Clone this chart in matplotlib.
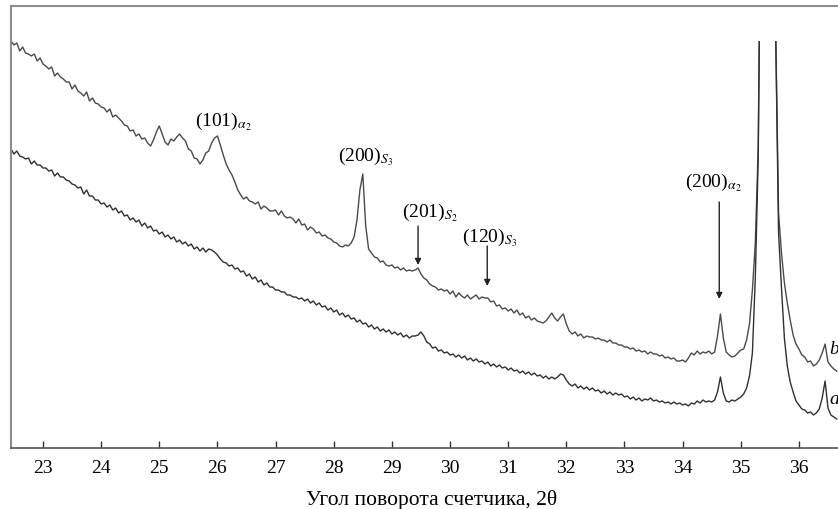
import numpy as np
import matplotlib
matplotlib.use('Agg')
import matplotlib.pyplot as plt
from matplotlib.transforms import Bbox, TransformedBbox

plt.rcParams['font.family'] = ['Liberation Serif', 'DejaVu Serif']
plt.rcParams['mathtext.fontset'] = 'stix'

# scan grid, step 0.05 deg
two_theta = np.linspace(22.45, 36.65, 285)

# curve b (upper)
intens_b = [
    407, 403, 405, 397, 401, 395, 394, 392, 394, 387,
    390, 384, 382, 379, 381, 372, 375, 371, 369, 366,
    366, 359, 363, 357, 355, 352, 356, 347, 350, 345,
    344, 341, 340, 336, 339, 331, 333, 330, 327, 323,
    322, 317, 318, 312, 314, 309, 310, 305, 302, 308,
    316, 322, 314, 306, 303, 309, 307, 311, 314, 310,
    307, 299, 297, 290, 289, 284, 288, 295, 297, 305,
    310, 312, 303, 293, 284, 278, 273, 266, 258, 253,
    249, 251, 247, 246, 244, 246, 239, 242, 240, 237,
    237, 238, 233, 237, 232, 230, 231, 229, 225, 229,
    223, 224, 218, 221, 219, 215, 216, 212, 213, 210,
    209, 206, 205, 202, 201, 203, 202, 205, 211, 228,
    258, 274, 222, 199, 195, 191, 190, 186, 187, 183,
    182, 183, 180, 181, 178, 180, 177, 178, 177, 178,
    180, 174, 170, 168, 164, 162, 161, 158, 159, 157,
    158, 154, 157, 151, 155, 152, 150, 153, 149, 151,
    153, 149, 151, 150, 150, 146, 147, 142, 143, 139,
    140, 137, 139, 135, 138, 133, 135, 130, 132, 128,
    130, 127, 126, 125, 127, 131, 135, 130, 127, 131,
    134, 124, 117, 114, 116, 112, 114, 110, 112, 111,
    111, 109, 110, 108, 108, 106, 108, 105, 105, 103,
    103, 101, 101, 99, 100, 97, 98, 96, 97, 94,
    96, 94, 94, 92, 93, 90, 91, 89, 90, 87,
    87, 88, 86, 90, 95, 93, 97, 94, 96, 95,
    97, 94, 96, 112, 134, 110, 96, 93, 91, 92,
    95, 98, 99, 108, 124, 158, 205, 300, 600, 700,
    700, 700, 600, 420, 235, 195, 165, 145, 128, 113,
    104, 99, 93, 91, 86, 87, 82, 84, 88, 95,
    104, 86, 82, 79, 77,
]

# curve a (lower)
intens_a = [
    299, 294, 297, 292, 291, 289, 290, 284, 287, 283,
    283, 280, 280, 277, 278, 272, 275, 271, 271, 268,
    267, 264, 263, 260, 261, 254, 258, 252, 252, 248,
    248, 244, 245, 241, 243, 238, 240, 235, 237, 232,
    233, 228, 230, 226, 228, 222, 225, 220, 222, 217,
    218, 214, 216, 211, 213, 209, 211, 206, 208, 204,
    206, 202, 204, 199, 201, 197, 200, 196, 199, 198,
    196, 193, 189, 186, 185, 182, 183, 179, 180, 176,
    177, 172, 174, 169, 171, 166, 168, 163, 165, 161,
    161, 158, 158, 156, 156, 153, 153, 151, 151, 149,
    150, 147, 149, 145, 147, 143, 145, 141, 142, 138,
    140, 136, 138, 133, 135, 131, 133, 129, 130, 126,
    128, 124, 125, 121, 123, 119, 121, 117, 119, 116,
    118, 114, 116, 113, 115, 111, 113, 110, 112, 112,
    113, 116, 112, 106, 104, 100, 101, 97, 98, 95,
    96, 93, 94, 91, 93, 90, 92, 88, 90, 87,
    89, 86, 87, 84, 86, 82, 84, 81, 83, 80,
    81, 78, 80, 77, 78, 75, 77, 74, 76, 73,
    75, 72, 73, 70, 72, 69, 71, 69, 71, 74,
    73, 68, 64, 62, 64, 60, 62, 59, 61, 58,
    60, 57, 58, 55, 57, 54, 56, 53, 55, 53,
    54, 51, 52, 49, 51, 48, 50, 47, 49, 48,
    50, 47, 48, 46, 47, 45, 46, 44, 46, 44,
    45, 43, 44, 42, 45, 44, 47, 45, 48, 46,
    47, 46, 48, 56, 71, 55, 47, 46, 48, 47,
    49, 51, 54, 60, 72, 95, 170, 290, 600, 700,
    700, 700, 600, 415, 215, 160, 110, 82, 66, 56,
    47, 43, 39, 38, 35, 36, 33, 35, 39, 50,
    67, 40, 33, 31, 29,
]

# the recorder cut the strong reflections at this level
cut_level = 407

peak_labels = [r'(101)$_{\alpha_2}$', r'(200)$_{S_3}$', r'(201)$_{S_2}$',
               r'(120)$_{S_3}$', r'(200)$_{\alpha_2}$']
label_pos = [(25.61, 323), (28.07, 288), (29.17, 232), (30.21, 207), (34.04, 262)]

# arrows: 2theta, start, tip
arrow_peaks = [29.45, 30.64, 34.63]
arrow_start = [222, 202, 246]
arrow_tip = [183, 162, 149]

fig = plt.figure(figsize=(8.38, 5.10), dpi=100)
ax = fig.add_axes([11 / 838, 61 / 510, 842 / 838, 442 / 510])
ax.set_xlim(22.45, 36.93)
ax.set_ylim(0, 442)

clip = TransformedBbox(Bbox([[22.45, 0], [36.93, cut_level]]), ax.transData)
line_b, = ax.plot(two_theta, intens_b, color='#4a4a4a', lw=1.0)
line_a, = ax.plot(two_theta, intens_a, color='#303030', lw=1.0)
line_b.set_clip_box(clip)
line_a.set_clip_box(clip)

for txt, (x, y) in zip(peak_labels, label_pos):
    ax.text(x, y, txt, fontsize=14, ha='left', va='baseline')

for x, y0, y1 in zip(arrow_peaks, arrow_start, arrow_tip):
    ax.annotate('', xy=(x, y1), xytext=(x, y0),
                arrowprops=dict(arrowstyle='-|>', color='#222222', lw=1.0,
                                mutation_scale=9, shrinkA=0, shrinkB=0))

# curve names at the right end
ax.text(36.52, 99, 'b', fontsize=14, style='italic', va='center')
ax.text(36.52, 49, 'a', fontsize=14, style='italic', va='center')

ax.set_xticks(range(23, 37))
ax.set_yticks([])
ax.tick_params(axis='x', direction='in', length=5, width=1, pad=8,
               labelsize=14, color='#333333')
ax.set_xlabel('Угол поворота счетчика, 2θ', fontsize=15.5, labelpad=9)

ax.spines['left'].set_color('#8c8c8c')
ax.spines['left'].set_linewidth(1.5)
ax.spines['top'].set_color('#8c8c8c')
ax.spines['top'].set_linewidth(1.5)
ax.spines['bottom'].set_color('#555555')
ax.spines['bottom'].set_linewidth(1.2)
ax.spines['right'].set_visible(False)

fig.savefig('out.png', dpi=100)
